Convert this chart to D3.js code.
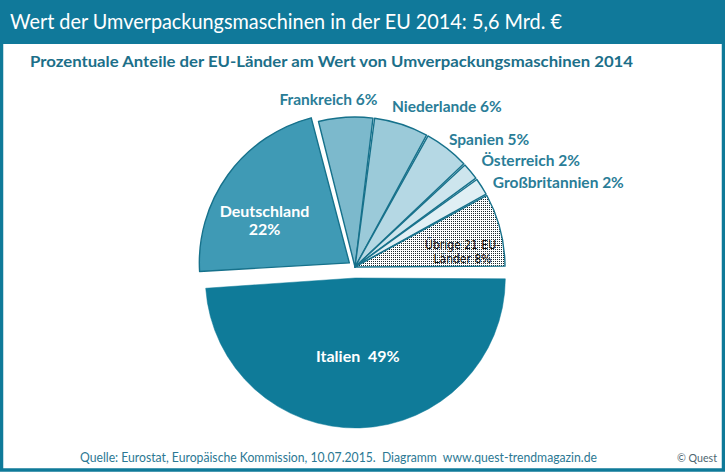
<!DOCTYPE html>
<html><head><meta charset="utf-8">
<script src="https://cdn.jsdelivr.net/npm/d3@7/dist/d3.min.js"></script>
<style>body{margin:0;background:#fff}svg{display:block}</style>
</head><body>
<script>
const title = "Wert der Umverpackungsmaschinen in der EU 2014: 5,6 Mrd. €";
const subtitle = "Prozentuale Anteile der EU-Länder am Wert von Umverpackungsmaschinen 2014";
const source = "Quelle: Eurostat, Europäische Kommission, 10.07.2015.  Diagramm  www.quest-trendmagazin.de";
const credit = "© Quest";
const categories = ["Italien", "Deutschland", "Frankreich", "Niederlande", "Spanien", "Österreich", "Großbritannien", "Übrige 21 EU-Länder"];
const shares = [49, 22, 6, 6, 5, 2, 2, 8];

const W = 725, H = 472;
const teal = "#0f7a99";
const fills = ["#0f7b99", "#3f9ab5", "#7cb9cc", "#9bcad9", "#b5d8e4", "#cde5ed", "#e0eff4", "url(#dots)"];
const explode = [11, 7, 0, 0, 0, 0, 0, 0];
// label placement: type 'in' or 'out', with small nudges
const labelCfg = [
  {type: "in", r: 80, dx: 0, dy: 4, lines: ["Italien  49%"]},
  {type: "in", r: 95, dx: -8, dy: 10, lines: ["Deutschland", "22%"]},
  {type: "out", anchor: "middle", dx: -16, dy: 6},
  {type: "out", anchor: "start", dx: -15, dy: 5},
  {type: "out", anchor: "start", dx: -9, dy: 11},
  {type: "out", anchor: "start", dx: -3, dy: 6},
  {type: "out", anchor: "start", dx: -4, dy: 11},
  {type: "dark", r: 110, dx: 1, dy: 9, lines: ["Übrige 21 EU-", "Länder 8%"]}
];

const svg = d3.select("body").append("svg").attr("width", W).attr("height", H);
const defs = svg.append("defs");
const pat = defs.append("pattern").attr("id", "dots").attr("patternUnits", "userSpaceOnUse")
  .attr("width", 2).attr("height", 2);
pat.append("rect").attr("width", 2).attr("height", 2).attr("fill", "#ffffff");
pat.append("rect").attr("width", 1).attr("height", 1).attr("fill", "#1e2a2e");

// frame + header
svg.append("rect").attr("x", 1.5).attr("y", 1.5).attr("width", W - 3).attr("height", H - 3.5)
  .attr("fill", "#fff").attr("stroke", teal).attr("stroke-width", 3.5);
svg.append("rect").attr("x", 0).attr("y", 0).attr("width", W).attr("height", 44).attr("fill", "#10799a");
svg.append("text").attr("x", 10).attr("y", 29).text(title)
  .attr("font-family", "Lato").attr("font-size", 20.5).attr("fill", "#fff")
  .attr("textLength", 552).attr("lengthAdjust", "spacingAndGlyphs");
svg.append("text").attr("x", 30).attr("y", 67).text(subtitle)
  .attr("font-family", "Lato").attr("font-weight", "bold").attr("font-size", 16).attr("fill", "#1c6f89")
  .attr("textLength", 603).attr("lengthAdjust", "spacingAndGlyphs");
svg.append("text").attr("x", 80).attr("y", 462).text(source).style("white-space", "pre")
  .attr("font-family", "Lato").attr("font-size", 13).attr("fill", "#2b7893")
  .attr("textLength", 517).attr("lengthAdjust", "spacingAndGlyphs");
svg.append("text").attr("x", 677).attr("y", 462).text(credit)
  .attr("font-family", "Lato").attr("font-size", 11).attr("fill", "#4d6670")
  .attr("textLength", 40).attr("lengthAdjust", "spacingAndGlyphs");

// pie
const cx = 355, cy = 267, R = 150;
const data = categories.map((c, i) => ({name: c, value: shares[i], i}));
const pie = d3.pie().value(d => d.value).sort(null)
  .startAngle(Math.PI / 2).endAngle(Math.PI / 2 + 2 * Math.PI);
const arcs = pie(data);
const arc = d3.arc().innerRadius(0).outerRadius(R).padAngle(0.011).padRadius(R);
const g = svg.append("g").attr("transform", `translate(${cx},${cy})`);

function off(a, dist) {
  const m = (a.startAngle + a.endAngle) / 2;
  return [Math.sin(m) * dist, -Math.cos(m) * dist];
}

g.selectAll("path").data(arcs).join("path")
  .attr("d", arc)
  .attr("transform", a => { const o = off(a, explode[a.data.i]); return `translate(${o[0]},${o[1]})`; })
  .attr("fill", a => fills[a.data.i])
  .attr("stroke", a => a.data.i === 0 ? "#0f7b99" : "#16718b")
  .attr("stroke-width", a => a.data.i === 0 ? 0.5 : 1.4)
  .attr("stroke-linejoin", "round");

arcs.forEach(a => {
  const cfg = labelCfg[a.data.i];
  const ex = off(a, explode[a.data.i]);
  if (cfg.type === "out") {
    const p = d3.arc().innerRadius(168).outerRadius(168).centroid(a);
    g.append("text").attr("x", p[0] + cfg.dx).attr("y", p[1] + cfg.dy)
      .attr("text-anchor", cfg.anchor)
      .attr("font-family", "Lato").attr("font-weight", "bold").attr("font-size", 15.5)
      .attr("fill", "#2a7d97")
      .text(`${a.data.name} ${a.data.value}%`);
  } else {
    const p = d3.arc().innerRadius(cfg.r).outerRadius(cfg.r).centroid(a);
    const dark = cfg.type === "dark";
    const t = g.append("text").attr("text-anchor", "middle")
      .attr("font-family", dark ? "DejaVu Sans Condensed" : "Lato")
      .attr("font-weight", dark ? "normal" : "bold")
      .attr("font-size", dark ? 12 : 16)
      .attr("fill", dark ? "#111" : "#fff")
      .style("white-space", "pre");
    cfg.lines.forEach((ln, k) => {
      t.append("tspan").attr("x", p[0] + ex[0] + cfg.dx)
        .attr("y", p[1] + ex[1] + cfg.dy + k * (dark ? 14 : 18)).text(ln);
    });
  }
});
</script>
</body></html>
